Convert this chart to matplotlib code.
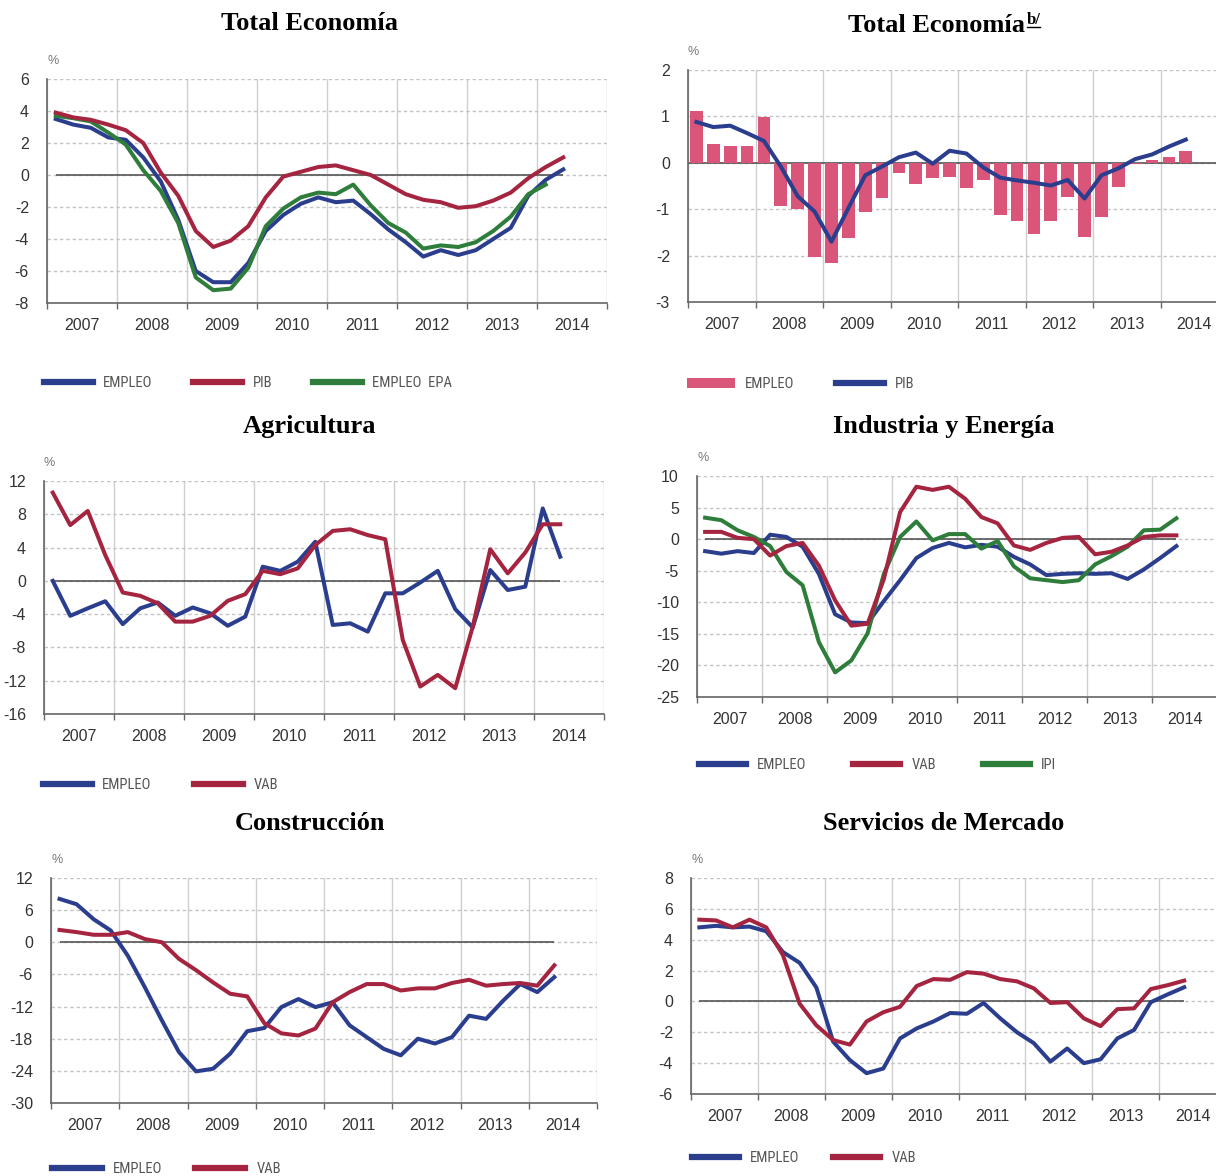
import matplotlib
matplotlib.use("Agg")
import logging
logging.getLogger("matplotlib.font_manager").setLevel(logging.ERROR)
import matplotlib.pyplot as plt
from matplotlib.lines import Line2D
from matplotlib.patches import Patch
import numpy as np

plt.rcParams["axes.unicode_minus"] = False

# ---------------- data (quarterly, 2007Q1 .. 2014Q2) ----------------
years = ["2007", "2008", "2009", "2010", "2011", "2012", "2013", "2014"]

te_empleo = [3.5, 3.15, 2.95, 2.35, 2.2, 1.1, -0.4, -2.8, -6.0, -6.7, -6.7, -5.5, -3.5, -2.5, -1.8, -1.4,
             -1.7, -1.6, -2.45, -3.4, -4.2, -5.1, -4.7, -5.0, -4.7, -4.0, -3.3, -1.3, -0.3, 0.35]
te_pib = [3.9, 3.6, 3.45, 3.15, 2.8, 2.0, 0.15, -1.3, -3.5, -4.5, -4.1, -3.2, -1.4, -0.1, 0.2, 0.5,
          0.6, 0.3, 0.0, -0.6, -1.2, -1.55, -1.7, -2.05, -1.95, -1.6, -1.1, -0.2, 0.5, 1.1]
te_epa = [3.7, 3.55, 3.35, 2.65, 1.9, 0.3, -1.0, -3.0, -6.4, -7.2, -7.1, -5.8, -3.2, -2.1, -1.4, -1.1,
          -1.2, -0.6, -1.9, -3.0, -3.6, -4.6, -4.4, -4.5, -4.2, -3.5, -2.6, -1.2, -0.6, np.nan]

teq_empleo = [1.12, 0.41, 0.37, 0.36, 0.98, -0.93, -1.0, -2.02, -2.17, -1.63, -1.05, -0.75, -0.22, -0.45, -0.32, -0.30,
              -0.55, -0.37, -1.13, -1.26, -1.54, -1.25, -0.74, -1.59, -1.16, -0.53, -0.02, 0.05, 0.12, 0.25]
teq_pib = [0.88, 0.77, 0.80, 0.64, 0.47, -0.08, -0.72, -1.05, -1.7, -0.98, -0.27, -0.08, 0.12, 0.22, -0.02, 0.26,
           0.2, -0.1, -0.32, -0.38, -0.43, -0.49, -0.37, -0.77, -0.27, -0.12, 0.08, 0.18, 0.35, 0.5]

agr_empleo = [0.0, -4.2, -3.3, -2.45, -5.2, -3.3, -2.6, -4.2, -3.2, -3.9, -5.4, -4.3, 1.7, 1.2, 2.3, 4.7,
              -5.3, -5.1, -6.1, -1.5, -1.5, -0.2, 1.2, -3.4, -5.6, 1.3, -1.1, -0.7, 8.7, 2.9]
agr_vab = [10.6, 6.7, 8.4, 3.1, -1.4, -1.8, -2.7, -4.9, -4.9, -4.2, -2.4, -1.6, 1.2, 0.8, 1.5, 4.3,
           6.0, 6.2, 5.5, 5.0, -7.1, -12.7, -11.3, -12.9, -5.5, 3.8, 0.9, 3.4, 6.8, 6.8]

ind_empleo = [-1.9, -2.3, -1.9, -2.2, 0.7, 0.35, -1.2, -5.5, -11.9, -13.2, -13.3, -9.8, -6.5, -3.0, -1.4, -0.6,
              -1.3, -0.9, -1.2, -2.8, -4.0, -5.7, -5.5, -5.4, -5.5, -5.4, -6.3, -4.8, -3.0, -1.1]
ind_vab = [1.15, 1.15, 0.2, 0.0, -2.6, -1.1, -0.6, -4.2, -9.7, -13.7, -13.4, -6.3, 4.3, 8.3, 7.8, 8.3,
           6.4, 3.5, 2.5, -1.0, -1.7, -0.6, 0.2, 0.35, -2.4, -2.0, -1.0, 0.35, 0.6, 0.6]
ind_ipi = [3.4, 3.0, 1.4, 0.35, -1.1, -5.2, -7.3, -16.3, -21.1, -19.2, -14.9, -5.5, 0.35, 2.8, -0.2, 0.8,
           0.8, -1.5, -0.3, -4.3, -6.2, -6.5, -6.8, -6.5, -4.0, -2.7, -1.2, 1.4, 1.5, 3.3]

con_empleo = [8.1, 7.1, 4.3, 2.2, -2.5, -8.4, -14.6, -20.5, -24.1, -23.6, -20.8, -16.6, -16.0, -12.1, -10.6, -12.1,
              -11.2, -15.5, -17.7, -19.9, -21.1, -18.0, -18.9, -17.7, -13.7, -14.3, -10.9, -7.8, -9.3, -6.5]
con_vab = [2.3, 1.9, 1.4, 1.4, 1.9, 0.6, 0.0, -3.1, -5.2, -7.5, -9.6, -10.1, -15.1, -17.0, -17.4, -16.1,
           -11.2, -9.3, -7.8, -7.8, -9.0, -8.6, -8.6, -7.6, -7.0, -8.1, -7.8, -7.6, -8.1, -4.3]

ser_empleo = [4.8, 4.9, 4.8, 4.85, 4.55, 3.2, 2.5, 0.9, -2.6, -3.8, -4.65, -4.35, -2.4, -1.75, -1.3, -0.75,
              -0.8, -0.1, -1.1, -2.0, -2.7, -3.9, -3.05, -4.0, -3.75, -2.4, -1.85, -0.05, 0.45, 0.92]
ser_vab = [5.3, 5.25, 4.8, 5.3, 4.8, 3.0, -0.15, -1.55, -2.5, -2.8, -1.3, -0.7, -0.35, 1.0, 1.45, 1.4,
           1.9, 1.8, 1.45, 1.3, 0.85, -0.1, -0.05, -1.1, -1.6, -0.5, -0.45, 0.8, 1.05, 1.35]

# ---------------- styling ----------------
BLUE = "#2b3e8e"
RED = "#a5243f"
GREEN = "#2e7d3a"
PINK = "#d9557a"
W, H = 1216, 1176
TICK_FONT = ["Liberation Sans", "DejaVu Sans"]
LEG_FONT = ["Roboto Condensed", "Archivo Narrow", "PT Sans Narrow", "Liberation Sans Narrow",
            "Liberation Sans", "DejaVu Sans"]
TITLE_FONT = ["Liberation Serif", "DejaVu Serif"]
LEG_SIZE = 10.5
LEG_PX = LEG_SIZE * 100 / 72.0

fig = plt.figure(figsize=(W / 100, H / 100), dpi=100)
fig.patch.set_facecolor("white")

nq = len(te_pib)
xq = 2007 + (np.arange(nq) + 0.5) / 4.0


def make_ax(x0, x1, ytop, ybot, ylim, step, zero_full=False):
    ax = fig.add_axes([x0 / W, 1 - ybot / H, (x1 - x0) / W, (ybot - ytop) / H])
    ax.set_xlim(2007, 2015)
    ax.set_ylim(*ylim)
    ax.set_yticks(np.arange(ylim[0], ylim[1] + 0.001, step))
    ax.set_xticks(np.arange(2007, 2016))
    ax.set_xticklabels([])
    ax.set_xticks(np.arange(2007.5, 2015, 1.0), minor=True)
    ax.set_xticklabels(years, minor=True)
    for s in ["top", "right"]:
        ax.spines[s].set_visible(False)
    for s in ["left", "bottom"]:
        ax.spines[s].set_color("#666666")
        ax.spines[s].set_linewidth(1.2)
    ax.tick_params(axis="x", which="major", length=4, width=1, color="#666666", direction="out")
    ax.tick_params(axis="x", which="minor", length=0, pad=11, labelsize=11.5, labelcolor="#333333")
    ax.tick_params(axis="y", length=0, pad=13, labelsize=11.5, labelcolor="#333333")
    for lab in ax.get_xticklabels(minor=True) + ax.get_yticklabels():
        lab.set_fontfamily(TICK_FONT)
    ax.grid(axis="x", which="major", color="#cfcfcf", linewidth=1.0, linestyle="-")
    ax.grid(axis="y", color="#c4c4c4", linewidth=1.0, linestyle=(0, (2.5, 2.0)))
    ax.set_axisbelow(True)
    if zero_full:
        ax.axhline(0, color="#555555", linewidth=1.2, zorder=2)
    else:
        ax.hlines(0, xq[0], xq[-1], color="#555555", linewidth=1.2, zorder=2)
    ax.annotate("%", xy=(0, 1), xycoords="axes fraction", xytext=(0, 13),
                textcoords="offset points", fontsize=9, color="#777777",
                ha="left", va="center", family=TICK_FONT)
    return ax


def add_legend(handles, labels, x_px, y_px, gap_px=42, hl_px=49, pad_px=10):
    fig.legend(handles, labels, loc="center left", bbox_to_anchor=(x_px / W, 1 - y_px / H),
               ncol=len(handles), frameon=False, borderpad=0, borderaxespad=0,
               handlelength=hl_px / LEG_PX, handletextpad=pad_px / LEG_PX,
               columnspacing=gap_px / LEG_PX,
               prop={"family": LEG_FONT, "size": LEG_SIZE}, labelcolor="#555555")


def title(text, xc, yc):
    return fig.text(xc / W, 1 - yc / H, text, ha="center", va="center",
                    family=TITLE_FONT, fontweight="bold", fontsize=19)


LW = 2.9
LEG_LW = 4.5


def lh(c):
    return Line2D([], [], color=c, lw=LEG_LW)


# ---- Panel 1: Total Economía ----
ax1 = make_ax(47, 607, 79, 303, (-8, 6), 2)
ax1.plot(xq, te_empleo, color=BLUE, lw=LW, zorder=3)
ax1.plot(xq, te_pib, color=RED, lw=LW, zorder=4)
ax1.plot(xq, te_epa, color=GREEN, lw=LW, zorder=3)
add_legend([lh(BLUE), lh(RED), lh(GREEN)], ["EMPLEO", "PIB", "EMPLEO  EPA"], 44, 383, gap_px=41)
title("Total Economía", 310, 23)

# ---- Panel 2: Total Economía b/ ----
ax2 = make_ax(688, 1228, 70, 302, (-3, 2), 1, zero_full=True)
ax2.bar(xq, teq_empleo, width=0.19, color=PINK, zorder=2.5)
ax2.plot(xq, teq_pib, color=BLUE, lw=LW, zorder=4)
add_legend([Patch(facecolor=PINK), lh(BLUE)], ["EMPLEO", "PIB"], 687, 384, gap_px=42, hl_px=48)
t2 = title("Total Economía", 936, 25)

# superscript "b/" underlined
fig.canvas.draw()
r = fig.canvas.get_renderer()
bb = t2.get_window_extent(r)
sx = bb.x1 + 2
sy = bb.y1 - 6
sup = fig.text(sx / W, sy / H, "b/", ha="left", va="center", family=TITLE_FONT,
               fontweight="bold", fontsize=12)
bb2 = sup.get_window_extent(r)
fig.add_artist(Line2D([bb2.x0 / W, bb2.x1 / W], [(bb2.y0 + 1) / H, (bb2.y0 + 1) / H],
                      color="black", lw=1.0))

# ---- Panel 3: Agricultura ----
ax3 = make_ax(44, 604, 481, 714, (-16, 12), 4)
ax3.plot(xq, agr_empleo, color=BLUE, lw=LW, zorder=3)
ax3.plot(xq, agr_vab, color=RED, lw=LW, zorder=4)
add_legend([lh(BLUE), lh(RED)], ["EMPLEO", "VAB"], 43, 785, gap_px=43)
title("Agricultura", 310, 426)

# ---- Panel 4: Industria y Energía ----
ax4 = make_ax(697, 1217, 476, 697, (-25, 10), 5)
ax4.plot(xq, ind_empleo, color=BLUE, lw=LW, zorder=3)
ax4.plot(xq, ind_vab, color=RED, lw=LW, zorder=4)
ax4.plot(xq, ind_ipi, color=GREEN, lw=LW, zorder=3)
add_legend([lh(BLUE), lh(RED), lh(GREEN)], ["EMPLEO", "VAB", "IPI"], 699, 765,
           gap_px=47, hl_px=47, pad_px=11)
title("Industria y Energía", 944, 426)

# ---- Panel 5: Construcción ----
ax5 = make_ax(51, 597, 878, 1103, (-30, 12), 6)
ax5.plot(xq, con_empleo, color=BLUE, lw=LW, zorder=3)
ax5.plot(xq, con_vab, color=RED, lw=LW, zorder=4)
add_legend([lh(BLUE), lh(RED)], ["EMPLEO", "VAB"], 52, 1169, gap_px=33, hl_px=50, pad_px=11)
title("Construcción", 310, 824)

# ---- Panel 6: Servicios de Mercado ----
ax6 = make_ax(691, 1226, 878, 1094, (-6, 8), 2)
ax6.plot(xq, ser_empleo, color=BLUE, lw=LW, zorder=3)
ax6.plot(xq, ser_vab, color=RED, lw=LW, zorder=4)
add_legend([lh(BLUE), lh(RED)], ["EMPLEO", "VAB"], 692, 1158, gap_px=34, hl_px=47, pad_px=11)
title("Servicios de Mercado", 944, 824)

fig.savefig("out.png", dpi=100, facecolor="white")
